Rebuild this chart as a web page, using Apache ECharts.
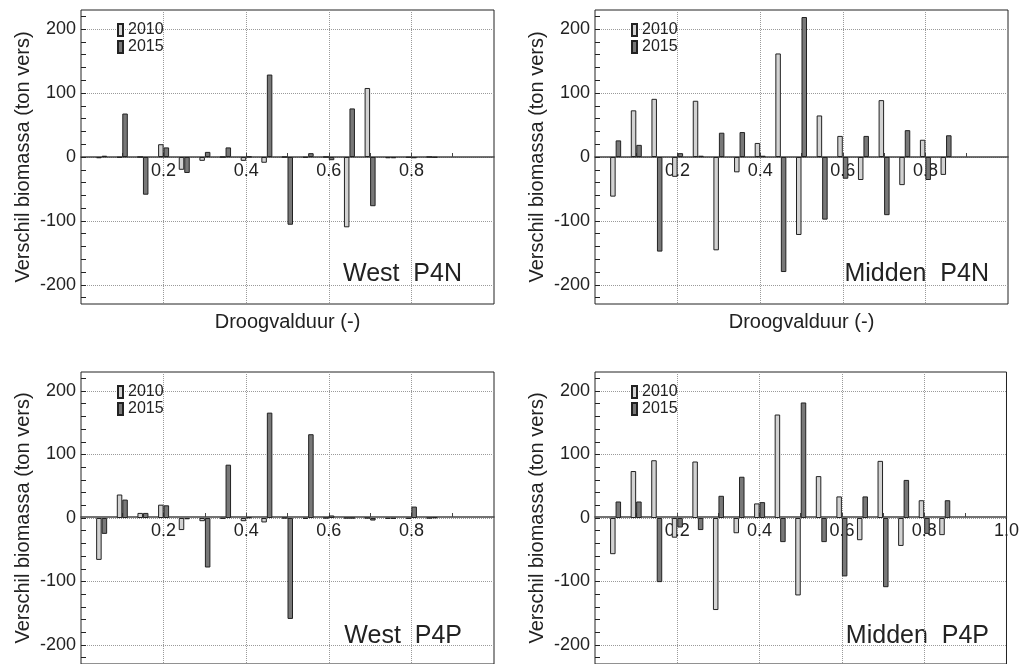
<!DOCTYPE html>
<html><head><meta charset="utf-8">
<script src="https://cdn.jsdelivr.net/npm/echarts@6/dist/echarts.min.js"></script>
<style>html,body{margin:0;padding:0;background:#fff}#c{width:1022px;height:664px}</style>
</head><body><div id="c"></div>
<script>
// Droogvalduur class centres
const xPositions = [0.05,0.10,0.15,0.20,0.25,0.30,0.35,0.40,0.45,0.50,0.55,0.60,0.65,0.70,0.75,0.80,0.85];
const seriesNames = ['2010','2015'];
const panelTitles = ['West  P4N','Midden  P4N','West  P4P','Midden  P4P'];

const westP4N_2010   = [-2, -1, 0, 20, -20, -6, 0, -6, -9, 0, -1, 0, -110, 108, -2, -1, 0];
const westP4N_2015   = [2, 68, -59, 15, -25, 8, 15, 0.5, 129, -106, 6, -5, 76, -77, -2, -2, -1];
const middenP4N_2010 = [-62, 73, 91, -31, 88, -146, -24, 22, 162, -122, 65, 33, -36, 89, -44, 27, -28];
const middenP4N_2015 = [26, 19, -148, 6, 2, 38, 39, 2, -180, 219, -98, -34, 33, -91, 42, -36, 34];
const westP4P_2010   = [-66, 37, 8, 21, -19, -5, -1, -5, -7, 0, -1, 0, 0, 0, -1, -1, 0];
const westP4P_2015   = [-25, 29, 8, 20, -2, -78, 84, 1, 166, -159, 132, 4, 0, -4, -1, 18, 1];
const middenP4P_2010 = [-57, 74, 91, -31, 89, -145, -24, 23, 163, -122, 66, 34, -35, 90, -44, 28, -27];
const middenP4P_2015 = [26, 26, -101, -15, -19, 35, 65, 25, -38, 182, -38, -92, 34, -109, 60, -25, 28];

const yTickLabels = [-200, -100, 0, 100, 200];
const yMinorTicks = [-220,-200,-180,-160,-140,-120,-100,-80,-60,-40,-20,0,20,40,60,80,100,120,140,160,180,200,220];
const xTicks = [0.1,0.2,0.3,0.4,0.5,0.6,0.7,0.8,0.9];
const xTickLabels = [0.2,0.4,0.6,0.8];
const xTickLabelsLast = [0.2,0.4,0.6,0.8,1.0];

const panelData = [
  [westP4N_2010, westP4N_2015],
  [middenP4N_2010, middenP4N_2015],
  [westP4P_2010, westP4P_2015],
  [middenP4P_2010, middenP4P_2015]
];

const FONT = '"Liberation Sans", Arial, Helvetica, sans-serif';
const TXT = '#222';
const grids = [
  {left: 81, top: 10, width: 413, height: 294},
  {left: 595, top: 10, width: 413, height: 294},
  {left: 81, top: 372, width: 413, height: 294},
  {left: 595, top: 372, width: 413, height: 294}
];
const colors = ['#d2d2d2', '#787878'];
const ZERO_OFFSET = -147; // moves the x axis up to y = 0 (middle of symmetric range)
const dotted = {color: '#9a9a9a', type: 'dotted', width: 1};

const mainX = grids.map((g, i) => ({
  type: 'value', gridIndex: i, min: 0, max: 1, interval: 0.2, position: 'bottom', offset: ZERO_OFFSET,
  axisLine: {show: true, onZero: false, lineStyle: {color: '#444', width: 1.5}},
  axisTick: {show: false},
  axisLabel: {customValues: i === 3 ? xTickLabelsLast : xTickLabels, fontSize: 18, color: TXT, margin: 5,
    fontFamily: FONT, formatter: v => Number(v).toFixed(1)},
  splitLine: {show: true, showMinLine: false, showMaxLine: false, lineStyle: dotted}
}));
const tickX = grids.map((g, i) => ({
  type: 'value', gridIndex: i, min: 0, max: 1, position: 'bottom', offset: ZERO_OFFSET,
  axisLine: {show: false, onZero: false},
  axisTick: {show: true, inside: true, length: 4, customValues: xTicks, lineStyle: {color: '#444'}},
  axisLabel: {show: false}, splitLine: {show: false}
}));
const mainY = grids.map((g, i) => ({
  type: 'value', gridIndex: i, min: -230, max: 230, splitNumber: 5, position: 'left',
  axisLine: {show: false}, axisTick: {show: false},
  axisLabel: {customValues: yTickLabels, fontSize: 18, color: TXT, margin: 5, fontFamily: FONT},
  splitLine: {show: true, showMinLine: false, showMaxLine: false, lineStyle: dotted},
  name: 'Verschil biomassa (ton vers)', nameLocation: 'middle', nameGap: 48,
  nameTextStyle: {fontSize: 20, color: TXT, fontFamily: FONT}
}));
const tickY = grids.map((g, i) => ({
  type: 'value', gridIndex: i, min: -230, max: 230, position: 'left',
  axisLine: {show: false},
  axisTick: {show: true, inside: true, length: 5, customValues: yMinorTicks, lineStyle: {color: '#222'}},
  axisLabel: {show: false}, splitLine: {show: false}
}));

const option = {
  animation: false,
  backgroundColor: '#fff',
  textStyle: {fontFamily: FONT},
  grid: grids.map(g => Object.assign({show: true, borderColor: '#222', borderWidth: 1, backgroundColor: 'transparent'}, g)),
  xAxis: mainX.concat(tickX),
  yAxis: mainY.concat(tickY),
  legend: grids.map((g, i) => ({
    data: seriesNames, orient: 'vertical', left: g.left + 36, top: g.top + 12, padding: 0,
    itemWidth: 5, itemHeight: 12, itemGap: 1, icon: 'rect', selectedMode: false,
    textStyle: {fontSize: 16, color: TXT, fontFamily: FONT}
  })),
  series: [],
  graphic: []
};

panelData.forEach((pair, gi) => {
  pair.forEach((vals, si) => {
    option.series.push({
      type: 'bar', name: seriesNames[si], xAxisIndex: gi, yAxisIndex: gi,
      barWidth: 5.5, barGap: '0%',
      itemStyle: {color: colors[si], borderColor: '#222', borderWidth: 1},
      data: xPositions.map((x, k) => [x, vals[k]])
    });
  });
});

grids.forEach((g, i) => {
  option.graphic.push({
    type: 'text', right: 1022 - (g.left + g.width) + (i % 2 === 0 ? 32 : 19), top: g.top + 252,
    style: {text: panelTitles[i], font: '25px ' + FONT, fill: TXT}
  });
  if (i < 2) {
    option.graphic.push({
      type: 'text', x: g.left + g.width / 2, y: 322,
      style: {text: 'Droogvalduur (-)', font: '20px ' + FONT, fill: TXT, align: 'center', verticalAlign: 'middle'}
    });
  }
});

const chart = echarts.init(document.getElementById('c'), null, {renderer: 'canvas'});
chart.setOption(option);
</script>
</body></html>
